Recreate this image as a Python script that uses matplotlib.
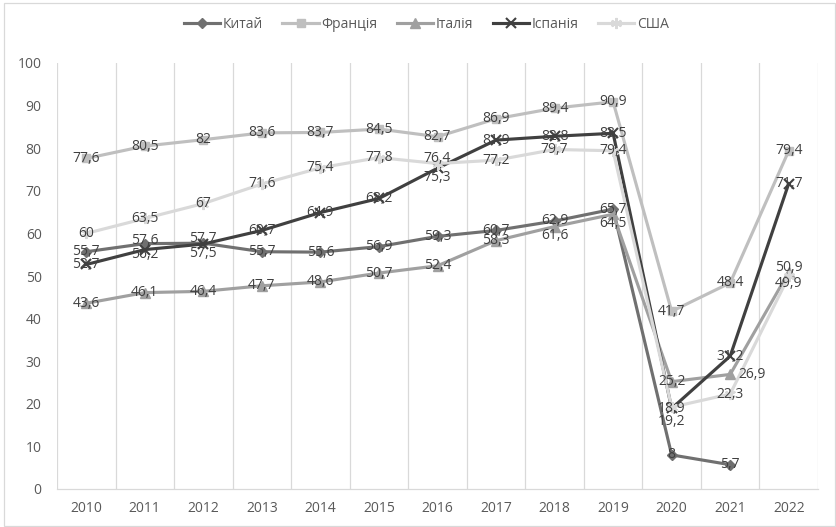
import matplotlib.pyplot as plt
import numpy as np
from matplotlib.patches import Rectangle

plt.rcParams["font.family"] = ["Open Sans", "DejaVu Sans"]

YEARS = [str(y) for y in range(2010, 2023)]

CHINA = [55.7, 57.6, 57.7, 55.7, 55.6, 56.9, 59.3, 60.7, 62.9, 65.7, 8, 5.7, np.nan]
FRANCE = [77.6, 80.5, 82, 83.6, 83.7, 84.5, 82.7, 86.9, 89.4, 90.9, 41.7, 48.4, 79.4]
ITALY = [43.6, 46.1, 46.4, 47.7, 48.6, 50.7, 52.4, 58.3, 61.6, 64.5, 25.2, 26.9, 50.9]
SPAIN = [52.7, 56.2, 57.5, 60.7, 64.9, 68.2, 75.3, 81.9, 82.8, 83.5, 18.9, 31.2, 71.7]
USA = [60, 63.5, 67, 71.6, 75.4, 77.8, 76.4, 77.2, 79.7, 79.4, 19.2, 22.3, 49.9]

# name, values, line colour, marker, marker size
SERIES = [
    ("Китай", CHINA, "#707070", "D", 5.5),
    ("Франція", FRANCE, "#bfbfbf", "s", 6),
    ("Італія", ITALY, "#a0a0a0", "^", 7),
    ("Іспанія", SPAIN, "#404040", "x", 7),
    ("США", USA, "#d9d9d9", (6, 2, 0), 8),
]

# hand-moved data labels that would otherwise sit on top of each other
# (series name, year index) -> (dx, dy) in pixels
LABEL_NUDGE = {
    ("Китай", 1): (0, 3),
    ("Іспанія", 1): (0, -5),
    ("Китай", 2): (0, 5),
    ("Іспанія", 2): (0, -9),
    ("США", 6): (0, 5),
    ("Іспанія", 6): (0, -9),
    ("Китай", 8): (0, 1),
    ("Італія", 8): (0, -9),
    ("Італія", 9): (0, -9),
    ("США", 10): (0, -14),
    ("Італія", 11): (22, 0),
    ("Італія", 12): (0, 5),
    ("США", 12): (0, -7),
}

GRID = "#d9d9d9"
TEXT = "#595959"
LABEL = "#404040"


def fmt(v):
    return f"{v:g}".replace(".", ",")


fig = plt.figure(figsize=(8.36, 5.27), dpi=100)
ax = fig.add_axes([57 / 836, 1 - 489 / 527, (818 - 57) / 836, (489 - 63) / 527])

x = np.arange(len(YEARS))
for name, values, color, marker, ms in SERIES:
    mew = 1.5 if marker in ("x", (6, 2, 0)) else 1
    ax.plot(x, values, color=color, lw=2.25, marker=marker, ms=ms,
            mec=color, mfc=color, mew=mew, label=name, solid_joinstyle="round")

for name, values, *_ in SERIES:
    for i, v in enumerate(values):
        if np.isnan(v):
            continue
        dx, dy = LABEL_NUDGE.get((name, i), (0, 0))
        ax.annotate(fmt(v), (i, v), xytext=(dx * 0.72, dy * 0.72),
                    textcoords="offset points", ha="center", va="center",
                    fontsize=10, color=LABEL, zorder=10)

ax.set_xlim(-0.5, len(YEARS) - 0.5)
ax.set_ylim(0, 100)
ax.set_yticks(range(0, 101, 10))
ax.set_xticks(x)
ax.set_xticklabels(YEARS)
ax.set_xticks(np.arange(-0.5, len(YEARS), 1), minor=True)
ax.grid(True, axis="x", which="minor", color=GRID, lw=0.9)
ax.grid(False, axis="x", which="major")
ax.tick_params(axis="both", which="both", length=0, labelsize=10, labelcolor=TEXT)
ax.tick_params(axis="y", pad=11)
ax.tick_params(axis="x", pad=9)
for side in ("top", "left", "right"):
    ax.spines[side].set_visible(False)
ax.spines["bottom"].set_color(GRID)
ax.spines["bottom"].set_linewidth(0.9)

fig.legend(loc="center", bbox_to_anchor=(0.51, 0.953), ncol=5, frameon=False,
           fontsize=10, handlelength=2.6, handletextpad=0.2, columnspacing=1.4,
           labelcolor=TEXT)

fig.add_artist(Rectangle((4 / 836, 1 - 526 / 527), (835 - 4) / 836, (526 - 3) / 527,
                         transform=fig.transFigure, fill=False, ec=GRID, lw=0.9))

fig.savefig("out.png", dpi=100)
